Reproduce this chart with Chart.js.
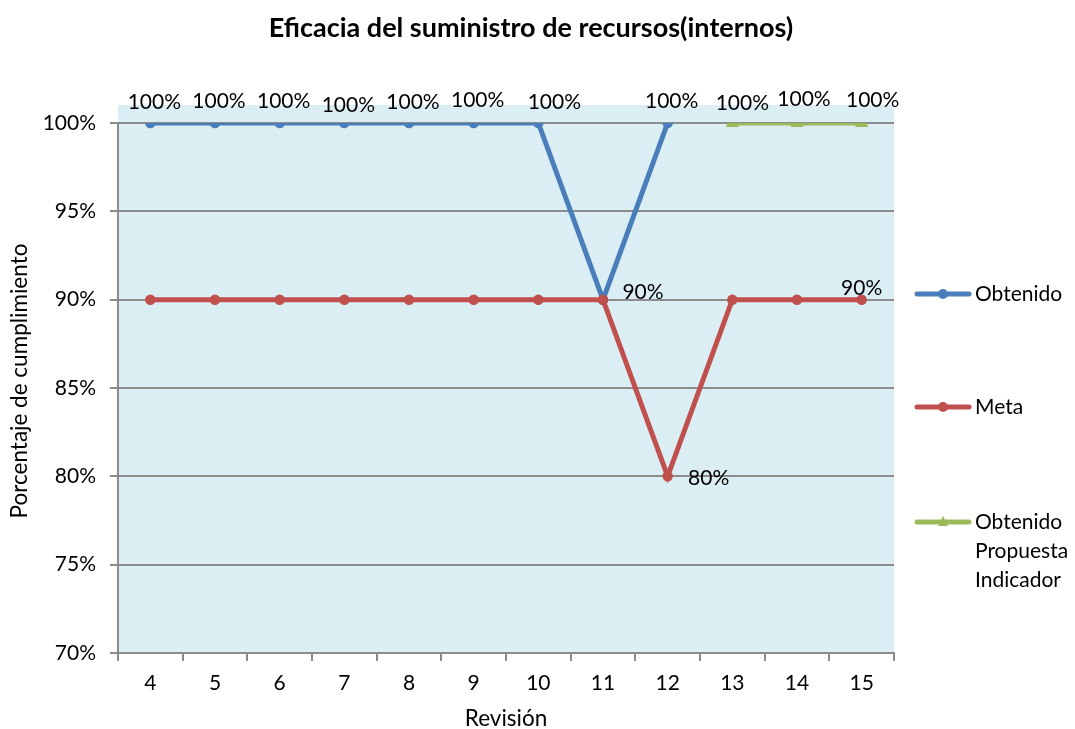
<!DOCTYPE html>
<html lang="es">
<head>
  <meta charset="UTF-8" />
  <title>Eficacia del suministro de recursos(internos)</title>
  <script src="https://cdn.jsdelivr.net/npm/chart.js"></script>
  <style>
    body { margin: 0; background: #fff; }
    #wrap { width: 1075px; height: 729px; }
  </style>
</head>
<body>
  <div id="wrap"><canvas id="chart" width="1075" height="729"></canvas></div>

  <script>
    // datos
    const revisiones = ['4', '5', '6', '7', '8', '9', '10', '11', '12', '13', '14', '15'];
    const obtenido = [1, 1, 1, 1, 1, 1, 1, 0.9, 1, null, null, null];
    const meta = [0.9, 0.9, 0.9, 0.9, 0.9, 0.9, 0.9, 0.9, 0.8, 0.9, 0.9, 0.9];
    const propuesta = [null, null, null, null, null, null, null, null, null, 1, 1, 1];
    const yMin = 0.70;
    const yMax = 1.00;
    const yStep = 0.05;

    const FONT = 'Lato, "Open Sans", sans-serif';
    const AZUL = '#4a7ebb';
    const ROJO = '#c0504d';
    const VERDE = '#9bbb59';
    const GRIS = '#8c8c8c';

    const pct = v => Math.round(v * 100) + '%';

    // que etiquetas se ven y donde (dataset -> punto -> [dx, dy])
    const etiquetas = {
      0: { 0: [4, -21], 1: [4, -22], 2: [4, -22], 3: [4, -18], 4: [4, -21], 5: [4, -23], 6: [16, -21], 7: [40, -7], 8: [4, -22] },
      1: { 8: [41, 2], 11: [0, -11] },
      2: { 9: [10, -20], 10: [7, -24], 11: [11, -23] }
    };

    const fondo = {
      id: 'fondo',
      beforeDraw(chart) {
        const { ctx, chartArea: a } = chart;
        ctx.save();
        ctx.fillStyle = '#dbeef4';
        ctx.fillRect(a.left, a.top - 18, a.right - a.left, a.bottom - a.top + 18);
        ctx.restore();
      }
    };

    const textos = {
      id: 'textos',
      afterDatasetsDraw(chart) {
        const ctx = chart.ctx;
        ctx.save();
        ctx.fillStyle = '#000';
        ctx.font = '21px ' + FONT;
        ctx.textAlign = 'center';
        ctx.textBaseline = 'middle';
        chart.data.datasets.forEach((ds, di) => {
          const pts = chart.getDatasetMeta(di).data;
          const conf = etiquetas[di] || {};
          ds.data.forEach((v, i) => {
            if (v == null || !conf[i]) return;
            const [dx, dy] = conf[i];
            ctx.fillText(pct(v), pts[i].x + dx, pts[i].y + dy);
          });
        });
        ctx.restore();
      },
      afterDraw(chart) {
        const ctx = chart.ctx;
        ctx.save();
        ctx.fillStyle = '#000';
        ctx.textAlign = 'center';
        ctx.textBaseline = 'middle';

        ctx.font = 'bold 27px ' + FONT;
        ctx.fillText('Eficacia del suministro de recursos(internos)', 531, 28);

        ctx.font = '22.5px ' + FONT;
        ctx.fillText('Revisión', 506, 719);
        ctx.save();
        ctx.translate(20, 381);
        ctx.rotate(-Math.PI / 2);
        ctx.fillText('Porcentaje de cumplimiento', 0, 0);
        ctx.restore();

        // leyenda
        const filas = [
          { y: 294, lineas: ['Obtenido'] },
          { y: 407, lineas: ['Meta'] },
          { y: 522, lineas: ['Obtenido', 'Propuesta', 'Indicador'] }
        ];
        ctx.textAlign = 'left';
        ctx.font = '21px ' + FONT;
        chart.data.datasets.forEach((ds, di) => {
          const f = filas[di];
          ctx.strokeStyle = ds.borderColor;
          ctx.lineWidth = 5;
          ctx.lineCap = 'round';
          ctx.beginPath();
          ctx.moveTo(917, f.y);
          ctx.lineTo(969, f.y);
          ctx.stroke();
          ctx.fillStyle = ds.borderColor;
          ctx.beginPath();
          if (ds.pointStyle === 'triangle') {
            ctx.moveTo(943, f.y - 6);
            ctx.lineTo(948, f.y + 4);
            ctx.lineTo(938, f.y + 4);
            ctx.closePath();
          } else {
            ctx.arc(943, f.y, 5, 0, Math.PI * 2);
          }
          ctx.fill();
          ctx.fillStyle = '#000';
          f.lineas.forEach((t, k) => ctx.fillText(t, 975, f.y + k * 29));
        });
        ctx.restore();
      }
    };

    new Chart(document.getElementById('chart'), {
      type: 'line',
      data: {
        labels: revisiones,
        datasets: [
          {
            label: 'Obtenido',
            data: obtenido,
            order: 2,
            borderColor: AZUL,
            backgroundColor: AZUL,
            borderWidth: 5,
            pointRadius: 4.5,
            pointBorderWidth: 1.5,
            pointStyle: 'circle',
            spanGaps: false
          },
          {
            label: 'Meta',
            data: meta,
            order: 1,
            borderColor: ROJO,
            backgroundColor: ROJO,
            borderWidth: 5,
            pointRadius: 4.5,
            pointBorderWidth: 1.5,
            pointStyle: 'circle'
          },
          {
            label: 'Obtenido Propuesta Indicador',
            data: propuesta,
            order: 0,
            borderColor: VERDE,
            backgroundColor: VERDE,
            borderWidth: 5,
            pointRadius: 7,
            pointBorderWidth: 1,
            pointStyle: 'triangle'
          }
        ]
      },
      options: {
        responsive: false,
        animation: false,
        devicePixelRatio: 1,
        layout: { padding: { top: 123, right: 181, left: 0, bottom: 0 } },
        plugins: {
          legend: { display: false },
          title: { display: false },
          tooltip: { enabled: false }
        },
        scales: {
          x: {
            offset: true,
            afterFit(scale) { scale.height = 76; },
            grid: { offset: true, drawOnChartArea: false, tickLength: 8, color: GRIS, lineWidth: 2 },
            border: { display: true, color: GRIS, width: 2 },
            ticks: { color: '#000', font: { family: FONT, size: 21 }, padding: 10, maxRotation: 0 }
          },
          y: {
            min: yMin,
            max: yMax,
            afterFit(scale) { scale.width = 118; },
            grid: { color: GRIS, lineWidth: 2, tickLength: 8 },
            border: { display: true, color: GRIS, width: 2 },
            ticks: {
              stepSize: yStep,
              color: '#000',
              font: { family: FONT, size: 21 },
              padding: 14,
              callback: v => pct(v)
            }
          }
        }
      },
      plugins: [fondo, textos]
    });
  </script>
</body>
</html>
